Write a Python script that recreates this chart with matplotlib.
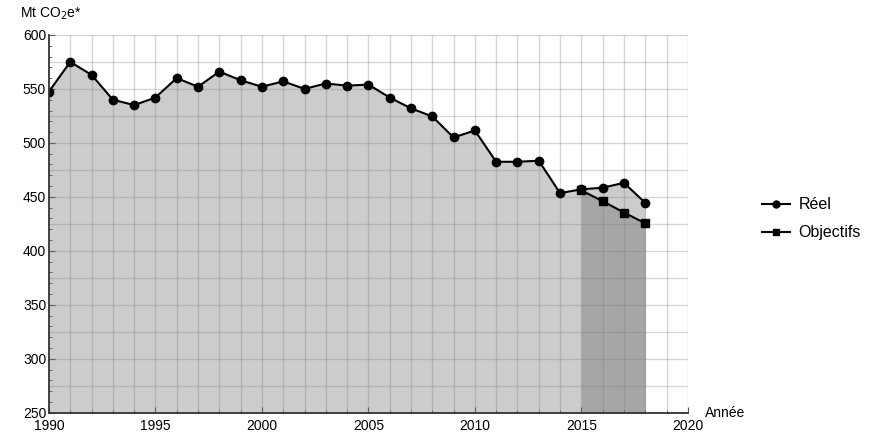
import numpy as np
import matplotlib.pyplot as plt
from matplotlib.ticker import MultipleLocator
from matplotlib.lines import Line2D
from matplotlib.transforms import ScaledTranslation

plt.rcParams['font.family'] = ['Liberation Sans', 'DejaVu Sans']

# emissions reelles (Mt CO2e)
years = list(range(1990, 2019))
reel = [547.5, 575, 563, 540, 535, 542, 560, 552, 566, 558, 552, 557,
        550, 555, 553, 554, 542, 532, 524.5, 505, 511.5, 482.5, 482.5,
        483.5, 453.5, 457, 458.5, 463, 444.5]

# objectifs
obj_years = [2015, 2016, 2017, 2018]
objectifs = [456, 446, 435.5, 425.5]

fig = plt.figure(figsize=(8.74, 4.42), dpi=100)
ax = fig.add_axes([0.056, 0.066, 0.731, 0.855])

ax.fill_between(years, reel, 250, color='#cccccc', lw=0, zorder=1)
ax.fill_between(obj_years, objectifs, 250, color='#a6a6a6', lw=0, zorder=1.5)

ax.plot(years, reel, color='black', lw=1.5, marker='o', ms=6, zorder=4)
ax.plot(obj_years, objectifs, color='black', lw=1.5, marker='s', ms=5.5, zorder=4)

ax.set_xlim(1990, 2020)
ax.set_ylim(250, 600)
ax.xaxis.set_major_locator(MultipleLocator(5))
ax.xaxis.set_minor_locator(MultipleLocator(1))
ax.yaxis.set_major_locator(MultipleLocator(50))
ax.yaxis.set_minor_locator(MultipleLocator(10))

# grille : chaque annee, tous les 25
for x in range(1991, 2021):
    ax.axvline(x, color='#808080', alpha=0.32, lw=1, zorder=2)
for y in np.arange(275, 601, 25):
    ax.axhline(y, color='#808080', alpha=0.32, lw=1, zorder=2)

for s in ['top', 'right']:
    ax.spines[s].set_visible(False)
for s in ['left', 'bottom']:
    ax.spines[s].set_color('#333333')
    ax.spines[s].set_linewidth(1.3)
    ax.spines[s].set_zorder(5)

ax.tick_params(which='both', direction='in', color='#555555', labelsize=10)
ax.tick_params(which='major', length=4)
ax.tick_params(which='minor', length=2.5)
ax.tick_params(axis='x', pad=4.5)
ax.tick_params(axis='y', pad=2)

# decaler un peu le "250" vers le haut pour ne pas toucher "1990"
fig.canvas.draw()
lab = ax.get_yticklabels()[0]
lab.set_transform(lab.get_transform() + ScaledTranslation(0, 3 / 100, fig.dpi_scale_trans))

ax.text(-0.045, 1.035, 'Mt CO$_2$e*', transform=ax.transAxes, fontsize=10,
        ha='left', va='bottom')
ax.text(1.027, 0.0, 'Année', transform=ax.transAxes, fontsize=10,
        ha='left', va='center')

handles = [Line2D([], [], color='black', lw=1.5, marker='o', ms=5),
           Line2D([], [], color='black', lw=1.5, marker='s', ms=5)]
fig.legend(handles, ['Réel', 'Objectifs'], loc='center left',
           bbox_to_anchor=(0.855, 0.505), frameon=False, fontsize=11.5,
           handlelength=1.8, handletextpad=0.5, labelspacing=0.8)

fig.savefig('out.png', dpi=100)
